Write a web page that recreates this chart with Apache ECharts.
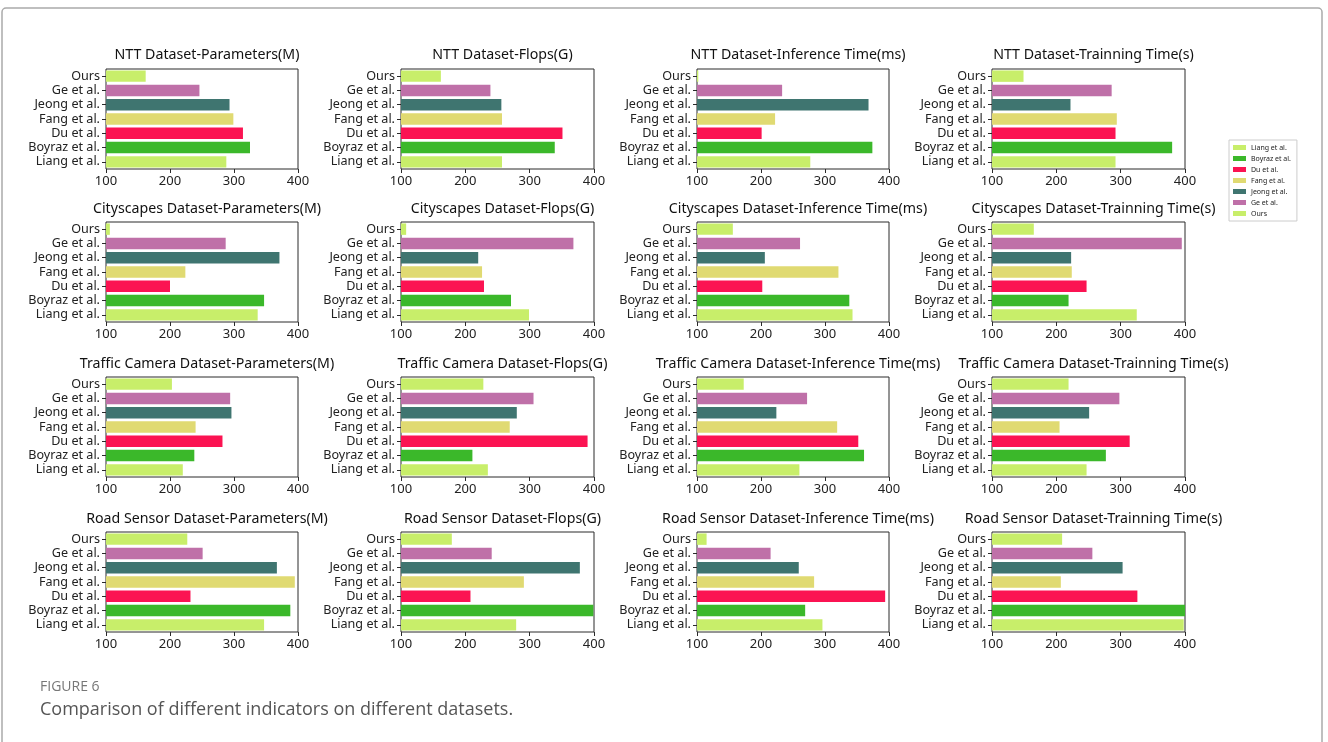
<!DOCTYPE html>
<html>
<head>
<meta charset="utf-8">
<script src="https://cdn.jsdelivr.net/npm/echarts@6/dist/echarts.min.js"></script>
<style>
  html, body { margin: 0; padding: 0; background: #fff; }
  #chart { width: 1328px; height: 742px; }
</style>
</head>
<body>
<div id="chart"></div>
<script>
// Methods listed bottom-to-top on every panel's category axis
const methods = ['Liang et al.', 'Boyraz et al.', 'Du et al.', 'Fang et al.', 'Jeong et al.', 'Ge et al.', 'Ours'];
const methodColors = ['#c8ee6a', '#3bb82a', '#fb1352', '#e0da72', '#3f7570', '#bf70a8', '#c8ee6a'];

const datasets = ['NTT', 'Cityscapes', 'Traffic Camera', 'Road Sensor'];
const metrics = ['Parameters(M)', 'Flops(G)', 'Inference Time(ms)', 'Trainning Time(s)'];
const xTicks = [100, 200, 300, 400];

// Values per panel, in the order of `methods`
const nttParams        = [288, 325, 314, 299, 293, 246, 162];
const nttFlops         = [257, 339, 351, 257, 256, 239, 162];
const nttInference     = [277, 374, 201, 222, 368, 233, 102];
const nttTraining      = [292, 380, 292, 294, 222, 286, 149];
const cityParams       = [337, 347, 200, 224, 371, 287, 106];
const cityFlops        = [299, 271, 229, 226, 220, 368, 108];
const cityInference    = [343, 338, 202, 321, 206, 261, 156];
const cityTraining     = [325, 219, 247, 224, 223, 395, 165];
const trafficParams    = [220, 238, 282, 240, 296, 294, 203];
const trafficFlops     = [235, 211, 390, 269, 280, 306, 228];
const trafficInference = [260, 361, 352, 319, 224, 272, 173];
const trafficTraining  = [247, 277, 314, 205, 251, 298, 219];
const roadParams       = [347, 388, 232, 395, 367, 251, 227];
const roadFlops        = [279, 399, 208, 291, 378, 241, 179];
const roadInference    = [296, 269, 394, 283, 259, 215, 115];
const roadTraining     = [398, 400, 326, 207, 303, 256, 209];

const panelValues = [
  [nttParams, nttFlops, nttInference, nttTraining],
  [cityParams, cityFlops, cityInference, cityTraining],
  [trafficParams, trafficFlops, trafficInference, trafficTraining],
  [roadParams, roadFlops, roadInference, roadTraining]
];

// Panel geometry
const colLeft = [106, 401, 697, 992];
const colWidth = [192, 193, 192, 193];
const rowTop = [69, 222, 377, 532];
const plotHeight = 100;

const FONT = 'Noto Sans';

const grid = [], xAxis = [], yAxis = [], title = [], series = [];

datasets.forEach((ds, r) => {
  metrics.forEach((m, c) => {
    const idx = grid.length;
    grid.push({
      left: colLeft[c], top: rowTop[r], width: colWidth[c], height: plotHeight,
      show: true, borderColor: '#2a2a2a', borderWidth: 1, backgroundColor: '#fff'
    });
    title.push({
      text: ds + ' Dataset-' + m,
      left: colLeft[c] + colWidth[c] / 2,
      top: rowTop[r] - (r === 0 ? 26 : 25),
      textAlign: 'center',
      textStyle: { fontFamily: FONT, fontSize: 14.2, fontWeight: 'normal', color: '#111' }
    });
    xAxis.push({
      type: 'value', gridIndex: idx,
      min: xTicks[0], max: xTicks[xTicks.length - 1], interval: xTicks[1] - xTicks[0],
      axisLine: { show: false },
      axisTick: { show: true, length: 4, lineStyle: { color: '#2a2a2a' } },
      splitLine: { show: false },
      axisLabel: { fontFamily: FONT, fontSize: 13, color: '#222', margin: 6 }
    });
    yAxis.push({
      type: 'category', gridIndex: idx, data: methods,
      axisLine: { show: false },
      axisTick: { show: true, length: 4, alignWithLabel: true, interval: 0, lineStyle: { color: '#2a2a2a' } },
      axisLabel: { fontFamily: FONT, fontSize: 12.6, color: '#222', margin: 6, interval: 0 }
    });
    const vals = panelValues[r][c];
    methods.forEach((name, k) => {
      series.push({
        type: 'bar', name: name,
        xAxisIndex: idx, yAxisIndex: idx,
        barGap: '-100%', barCategoryGap: '20%',
        itemStyle: { color: methodColors[k] },
        data: methods.map((_, j) => (j === k ? vals[j] : '-')),
        animation: false
      });
    });
  });
});

const chart = echarts.init(document.getElementById('chart'), null, { renderer: 'canvas' });
chart.setOption({
  backgroundColor: '#fff',
  animation: false,
  title: title,
  grid: grid,
  xAxis: xAxis,
  yAxis: yAxis,
  series: series,
  legend: {
    orient: 'vertical',
    left: 1229, top: 140,
    data: methods.map(n => ({ name: n, icon: 'rect' })),
    itemWidth: 13, itemHeight: 5, itemGap: 4,
    padding: [4, 6, 4, 4],
    borderColor: '#ccc', borderWidth: 1,
    textStyle: { fontFamily: FONT, fontSize: 7, color: '#222' },
    selectedMode: false
  },
  graphic: [
    {
      type: 'rect', silent: true,
      shape: { x: 2, y: 8, width: 1320, height: 760, r: 4 },
      style: { fill: null, stroke: '#aaa', lineWidth: 1.5 }
    },
    {
      type: 'text', left: 40, top: 680,
      style: { text: 'FIGURE 6', font: '14px "Open Sans"', fill: '#777' }
    },
    {
      type: 'text', left: 40, top: 701,
      style: { text: 'Comparison of different indicators on different datasets.', font: '18px "Open Sans"', fill: '#555' }
    }
  ]
});
</script>
</body>
</html>
